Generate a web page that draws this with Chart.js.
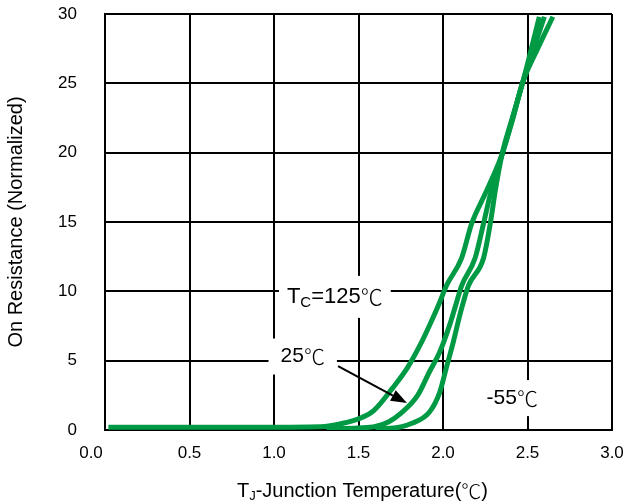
<!DOCTYPE html>
<html>
<head>
<meta charset="utf-8">
<script src="https://cdn.jsdelivr.net/npm/chart.js@4/dist/chart.umd.min.js"></script>
<style>
  html, body { margin: 0; padding: 0; background: #fff; }
  #wrap { width: 627px; height: 502px; position: relative; }
</style>
</head>
<body>
<div id="wrap"><canvas id="chart"></canvas></div>
<script>
// Axis ticks
const xTickValues = [0, 0.5, 1.0, 1.5, 2.0, 2.5, 3.0];
const xTickLabels = ['0.0', '0.5', '1.0', '1.5', '2.0', '2.5', '3.0'];
const yTickValues = [0, 5, 10, 15, 20, 25, 30];

// Series: Tc = 125 ℃
const tc125X = [0.02, 0.6, 1.0, 1.3, 1.43, 1.52, 1.59, 1.70, 1.79, 1.88, 1.93, 1.98, 2.02, 2.11, 2.17, 2.26, 2.35, 2.41, 2.47, 2.56, 2.65];
const tc125Y = [0.2, 0.2, 0.2, 0.25, 0.55, 0.9, 1.4, 3.0, 4.5, 6.5, 7.8, 9.2, 10.4, 12.4, 14.9, 17.3, 19.9, 22.3, 25.0, 27.5, 29.8];

// Series: Tc = 25 ℃
const tc25X = [1.31, 1.50, 1.60, 1.68, 1.75, 1.85, 1.92, 1.98, 2.04, 2.08, 2.11, 2.19, 2.24, 2.28, 2.35, 2.41, 2.47, 2.60];
const tc25Y = [0.1, 0.15, 0.25, 0.6, 1.2, 2.5, 4.2, 5.6, 7.6, 9.2, 10.4, 12.4, 14.9, 17.0, 19.9, 22.4, 25.0, 29.8];

// Series: Tc = -55 ℃
const tcM55X = [1.60, 1.69, 1.82, 1.92, 1.98, 2.02, 2.06, 2.10, 2.15, 2.24, 2.28, 2.31, 2.35, 2.41, 2.47, 2.57];
const tcM55Y = [0.1, 0.12, 0.5, 1.3, 2.7, 4.5, 6.3, 8.3, 10.4, 12.4, 14.9, 17.3, 19.9, 22.5, 25.0, 29.8];

const GREEN = '#009a44';
const FONT = '"Liberation Sans", Arial, sans-serif';
const CJK = '"Noto Sans CJK SC", sans-serif';

function points(xs, ys) {
  return xs.map((x, i) => ({ x: x, y: ys[i] }));
}

// In-plot callouts (data coordinates)
const callouts = [
  { parts: [['T', 1], ['C', 0.7, 'sub'], ['=125', 1], ['℃', 1, 'cjk']], x: 1.36, y: 9.6, size: 22, padX: 8, halfH: 21 },
  { parts: [['25', 1], ['℃', 1, 'cjk']], x: 1.17, y: 5.3, size: 21, padX: 12, halfH: 18 },
  { parts: [['-55', 1], ['℃', 1, 'cjk']], x: 2.41, y: 2.3, size: 21, padX: 8, halfH: 18 }
];
const arrow = { x1: 1.379, y1: 4.6, x2: 1.787, y2: 1.94 };

function partFont(size, p) {
  const fam = p[2] === 'cjk' ? CJK : FONT;
  const weight = p[2] === 'cjk' ? '300 ' : '';
  return weight + Math.round(size * p[1]) + 'px ' + fam;
}

function measureParts(ctx, parts, size) {
  let w = 0;
  parts.forEach(p => { ctx.font = partFont(size, p); w += ctx.measureText(p[0]).width; });
  return w;
}

function drawParts(ctx, parts, size, left, cy) {
  let x = left;
  parts.forEach(p => {
    ctx.font = partFont(size, p);
    const dy = p[2] === 'sub' ? size * 0.28 : 0;
    ctx.fillText(p[0], x, cy + dy);
    x += ctx.measureText(p[0]).width;
  });
}

const decorations = {
  id: 'decorations',
  afterDatasetsDraw(chart) {
    const ctx = chart.ctx;
    const xs = chart.scales.x, ys = chart.scales.y;
    const area = chart.chartArea;
    ctx.save();
    ctx.textBaseline = 'middle';
    ctx.fillStyle = '#000';

    // X tick labels
    ctx.font = '17px ' + FONT;
    ctx.textAlign = 'center';
    xTickValues.forEach((v, i) => {
      let px = xs.getPixelForValue(v);
      if (i === 0) px -= 14;
      ctx.fillText(xTickLabels[i], px, area.bottom + 23);
    });

    // X axis title with subscript J
    ctx.textAlign = 'left';
    const titleParts = [['T', 1], ['J', 0.65, 'sub'], ['-Junction Temperature(', 1], ['℃', 1, 'cjk'], [')', 1]];
    const tw = measureParts(ctx, titleParts, 20);
    const cx = (area.left + area.right) / 2;
    drawParts(ctx, titleParts, 20, cx - tw / 2 + 4, area.bottom + 61);

    // Callout labels on white boxes
    callouts.forEach(c => {
      const w = measureParts(ctx, c.parts, c.size);
      const px = xs.getPixelForValue(c.x);
      const py = ys.getPixelForValue(c.y);
      ctx.fillStyle = '#fff';
      ctx.fillRect(px - w / 2 - c.padX, py - c.halfH, w + 2 * c.padX, 2 * c.halfH);
      ctx.fillStyle = '#000';
      drawParts(ctx, c.parts, c.size, px - w / 2, py);
    });

    // Arrow pointing at the 25 ℃ curve
    const ax1 = xs.getPixelForValue(arrow.x1), ay1 = ys.getPixelForValue(arrow.y1);
    const ax2 = xs.getPixelForValue(arrow.x2), ay2 = ys.getPixelForValue(arrow.y2);
    const ang = Math.atan2(ay2 - ay1, ax2 - ax1);
    const headLen = 16, headW = 6;
    const bx = ax2 - headLen * Math.cos(ang), by = ay2 - headLen * Math.sin(ang);
    ctx.strokeStyle = '#000';
    ctx.lineWidth = 2;
    ctx.beginPath();
    ctx.moveTo(ax1, ay1);
    ctx.lineTo(bx, by);
    ctx.stroke();
    ctx.beginPath();
    ctx.moveTo(ax2, ay2);
    ctx.lineTo(bx + headW * Math.sin(ang), by - headW * Math.cos(ang));
    ctx.lineTo(bx - headW * Math.sin(ang), by + headW * Math.cos(ang));
    ctx.closePath();
    ctx.fill();
    ctx.restore();
  }
};

function series(label, xs, ys) {
  return {
    label: label,
    data: points(xs, ys),
    borderColor: GREEN,
    backgroundColor: GREEN,
    borderWidth: 5,
    pointRadius: 0,
    fill: false,
    cubicInterpolationMode: 'monotone',
    borderCapStyle: 'butt',
    borderJoinStyle: 'round'
  };
}

new Chart(document.getElementById('chart'), {
  type: 'line',
  data: {
    datasets: [
      series('Tc=125℃', tc125X, tc125Y),
      series('25℃', tc25X, tc25Y),
      series('-55℃', tcM55X, tcM55Y)
    ]
  },
  options: {
    responsive: true,
    maintainAspectRatio: false,
    animation: false,
    devicePixelRatio: 1,
    layout: { padding: { top: 14, right: 15, left: 0, bottom: 0 } },
    plugins: { legend: { display: false }, tooltip: { enabled: false } },
    scales: {
      x: {
        type: 'linear',
        min: 0,
        max: 3,
        afterBuildTicks(scale) { scale.ticks = xTickValues.map(v => ({ value: v })); },
        afterFit(scale) {
          scale.height = 72;
          scale.paddingLeft = 0; scale.paddingRight = 0;
          scale.paddingTop = 0; scale.paddingBottom = 0;
        },
        ticks: { display: false },
        grid: { color: '#000', lineWidth: 2, drawTicks: false },
        border: { color: '#000', width: 2 }
      },
      y: {
        type: 'linear',
        min: 0,
        max: 30,
        afterBuildTicks(scale) { scale.ticks = yTickValues.map(v => ({ value: v })); },
        afterFit(scale) {
          scale.width = 105;
          scale.paddingTop = 0; scale.paddingBottom = 0;
          scale.paddingLeft = 0; scale.paddingRight = 0;
        },
        ticks: { color: '#000', font: { size: 17, family: FONT }, padding: 28 },
        grid: { color: '#000', lineWidth: 2, drawTicks: false },
        border: { color: '#000', width: 2 },
        title: {
          display: true,
          text: 'On Resistance (Normalized)',
          color: '#000',
          font: { size: 20, family: FONT },
          padding: { top: 4, bottom: 4 }
        }
      }
    }
  },
  plugins: [decorations]
});
</script>
</body>
</html>
